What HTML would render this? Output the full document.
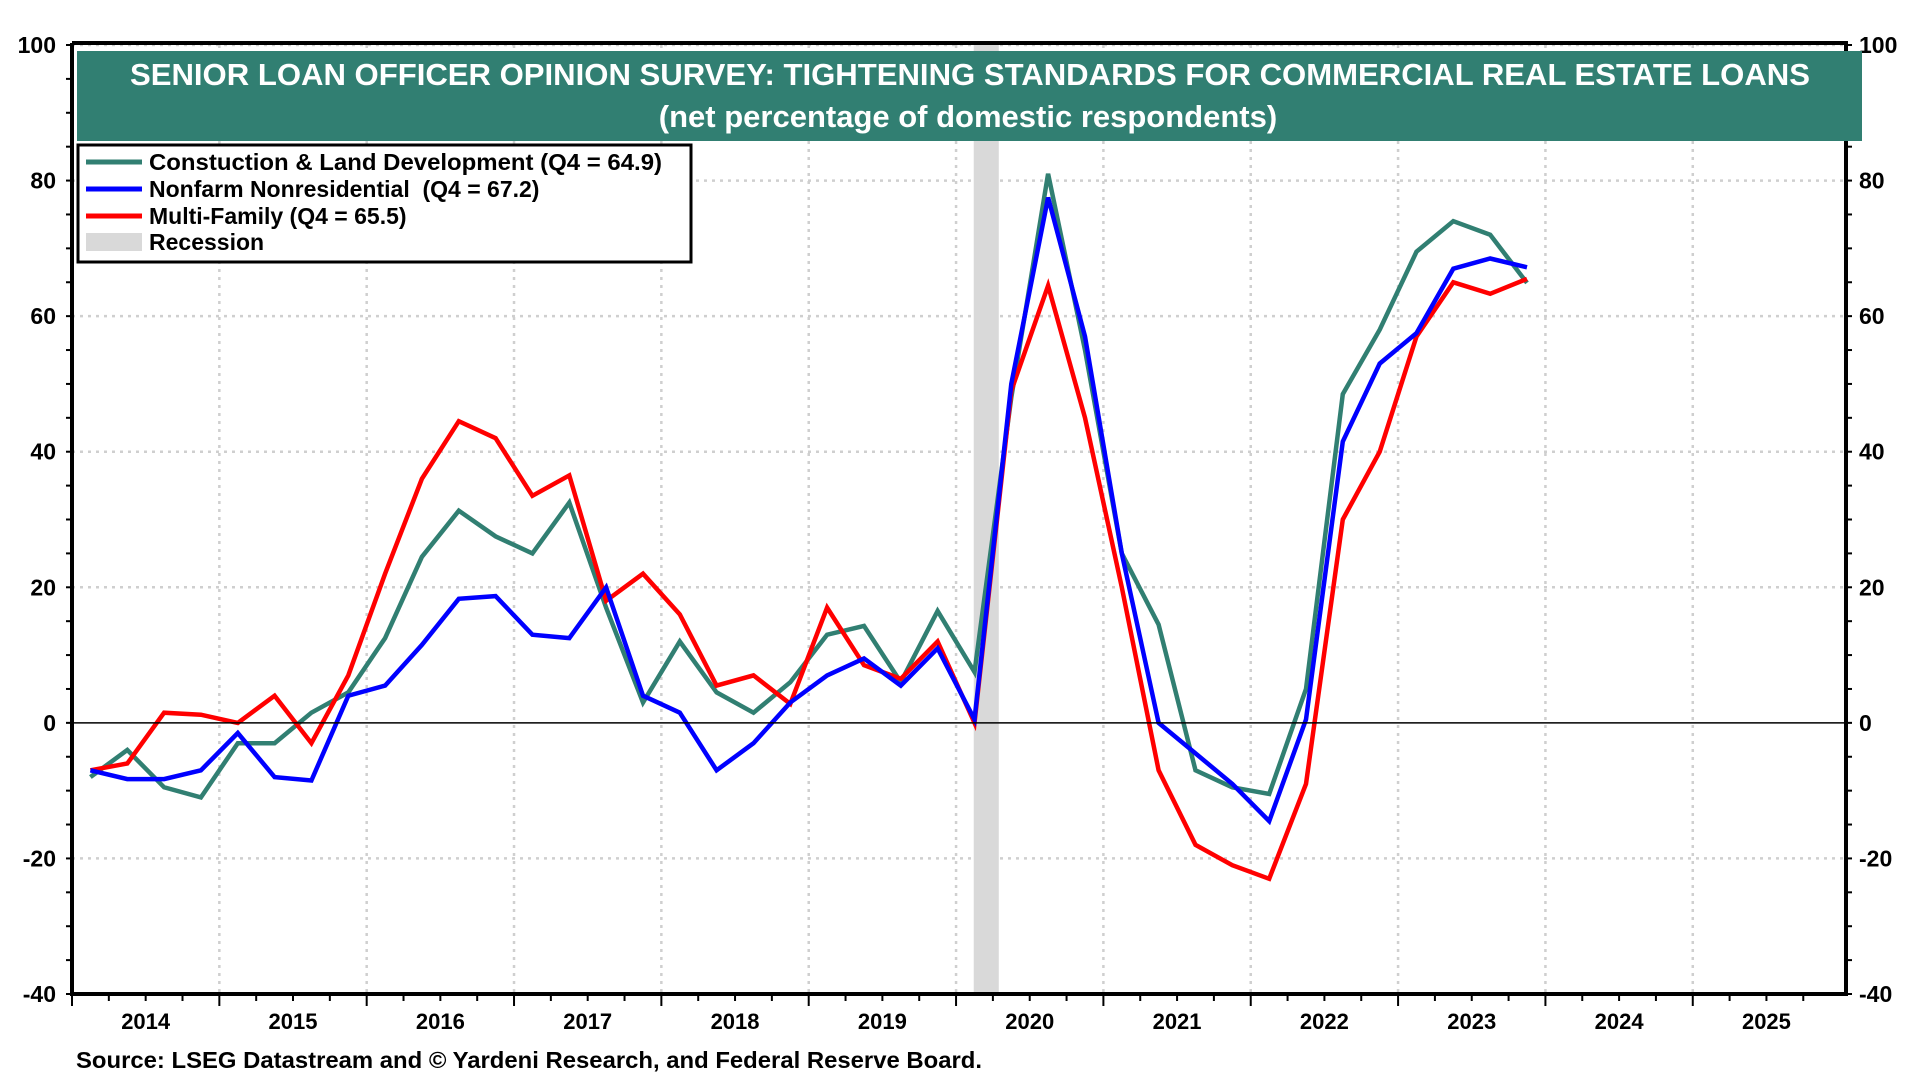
<!DOCTYPE html>
<html><head><meta charset="utf-8">
<style>
html,body{margin:0;padding:0;background:#fff;}
body{width:1920px;height:1080px;overflow:hidden;font-family:"Liberation Sans",Arial,sans-serif;}
svg text{font-family:"Liberation Sans",Arial,sans-serif;font-weight:bold;}
</style></head>
<body>
<svg id="chart" width="1920" height="1080" viewBox="0 0 1920 1080" xmlns="http://www.w3.org/2000/svg">
<g id="grid"></g>
<g id="rec"></g>
<g id="series"></g>
<g id="axes"></g>
<rect x="77" y="51" width="1785" height="90" fill="#317f72"/>
<text x="970" y="85" fill="#fff" font-size="31" text-anchor="middle" textLength="1680" lengthAdjust="spacingAndGlyphs">SENIOR LOAN OFFICER OPINION SURVEY: TIGHTENING STANDARDS FOR COMMERCIAL REAL ESTATE LOANS</text>
<text x="968" y="127" fill="#fff" font-size="31" text-anchor="middle">(net percentage of domestic respondents)</text>
<g>
<rect x="78" y="145" width="613" height="117" fill="#fff" stroke="#000" stroke-width="3"/>
<g><line x1="86" y1="162" x2="142" y2="162" stroke="#317f72" stroke-width="5"/><text x="149" y="170" font-size="23" textLength="513" lengthAdjust="spacingAndGlyphs">Constuction &amp; Land Development (Q4 = 64.9)</text></g>
<g><line x1="86" y1="189" x2="142" y2="189" stroke="#0000ff" stroke-width="5"/><text x="149" y="197" font-size="23">Nonfarm Nonresidential&#160; (Q4 = 67.2)</text></g>
<g><line x1="86" y1="216" x2="142" y2="216" stroke="#ff0000" stroke-width="5"/><text x="149" y="224" font-size="23">Multi-Family (Q4 = 65.5)</text></g>
<g><rect x="86" y="233" width="56" height="18" fill="#d9d9d9"/><text x="149" y="250" font-size="23">Recession</text></g>
</g>
<text x="76" y="1068" font-size="23" textLength="906" lengthAdjust="spacingAndGlyphs">Source: LSEG Datastream and © Yardeni Research, and Federal Reserve Board.</text>
</svg>
<script>
const startYear = 2014; // 2014Q1 .. 2023Q4
const construction = [-8,-4,-9.5,-11,-3,-3,1.5,4.5,12.5,24.5,31.3,27.5,25,32.5,17,3,12,4.5,1.5,6,13,14.3,6,16.5,7.5,48,81,55,25,14.5,-7,-9.5,-10.5,5,48.5,58,69.5,74,72,64.9];
const nonfarm = [-7,-8.3,-8.3,-7,-1.5,-8,-8.5,4,5.5,11.5,18.3,18.7,13,12.5,20,4,1.5,-7,-3,3,7,9.5,5.5,11,0.5,50,77.5,57,25,0,-4.5,-9,-14.5,0.5,41.5,53,57.5,67,68.5,67.2];
const multifamily = [-7,-6,1.5,1.2,0,4,-3,7,22,36,44.5,42,33.5,36.5,18,22,16,5.5,7,2.8,17,8.5,6.5,12,0,49,64.5,45,20,-7,-18,-21,-23,-9,30,40,57,65,63.3,65.5];
const yTicks = [-40,-20,0,20,40,60,80,100];
const xYears = [2014,2015,2016,2017,2018,2019,2020,2021,2022,2023,2024,2025];
const recessions = [[2020.12,2020.29]];

const NS='http://www.w3.org/2000/svg';
const L=72,R=1846,T=45,B=994;
const x0=2014,x1=2026.04,y0=-40,y1=100;
const xs=v=>L+(v-x0)/(x1-x0)*(R-L);
const ys=v=>B-(v-y0)/(y1-y0)*(B-T);
function mk(tag,attrs,parent){const e=document.createElementNS(NS,tag);for(const k in attrs)e.setAttribute(k,attrs[k]);parent.appendChild(e);return e;}
const grid=document.getElementById('grid'),axes=document.getElementById('axes'),series=document.getElementById('series'),rec=document.getElementById('rec');

yTicks.forEach(v=>{
  if(v!==y0&&v!==0){const g=mk('line',{x1:L,x2:R,y1:ys(v),y2:ys(v),stroke:'#cfcfcf','stroke-width':2.5,'stroke-dasharray':'3,5'},grid);
  
  }
  const t1=mk('text',{x:56,y:ys(v)+8,'font-size':23,'text-anchor':'end'},axes);t1.textContent=v;
  
  
  const t2=mk('text',{x:1859,y:ys(v)+8,'font-size':23},axes);t2.textContent=v;
  
  
});
for(let v=y0;v<=y1;v+=5){
  mk('line',{x1:L-6,x2:L,y1:ys(v),y2:ys(v),stroke:'#000','stroke-width':2},axes);
  mk('line',{x1:R,x2:R+6,y1:ys(v),y2:ys(v),stroke:'#000','stroke-width':2},axes);
}
xYears.forEach(yr=>{
  if(yr>x0){const g=mk('line',{x1:xs(yr),x2:xs(yr),y1:T,y2:B,stroke:'#cfcfcf','stroke-width':2.5,'stroke-dasharray':'3,5'},grid);
  
  }
  const t=mk('text',{x:xs(yr+0.5),y:1029,'font-size':22,'text-anchor':'middle'},axes);t.textContent=yr;
  
  
  for(let q=0;q<4;q++){mk('line',{x1:xs(yr+q/4),x2:xs(yr+q/4),y1:B,y2:B+(q===0?12:7),stroke:'#000','stroke-width':2},axes);}
});
recessions.forEach(r=>{
  const e=mk('rect',{x:xs(r[0]),y:T,width:xs(r[1])-xs(r[0]),height:B-T,fill:'#d9d9d9'},rec);
  
  
});
const zl=mk('line',{x1:L,x2:R,y1:ys(0),y2:ys(0),stroke:'#000','stroke-width':1.5},axes);


const fr=mk('path',{d:`M${L},${T-2} L${L},${B} L${R},${B} L${R},${T-2} L${L},${T-2}`,fill:'none',stroke:'#000','stroke-width':4},axes);



function draw(arr,color,name){
  const pts=arr.map((v,i)=>xs(startYear+(i+0.5)/4).toFixed(1)+','+ys(v).toFixed(1)).join(' ');
  const p=mk('polyline',{points:pts,fill:'none',stroke:color,'stroke-width':4.5,'stroke-linejoin':'miter'},series);
  
  
}
draw(construction,'#317f72','construction-line');
draw(multifamily,'#ff0000','multifamily-line');
draw(nonfarm,'#0000ff','nonfarm-line');
</script>
</body></html>
